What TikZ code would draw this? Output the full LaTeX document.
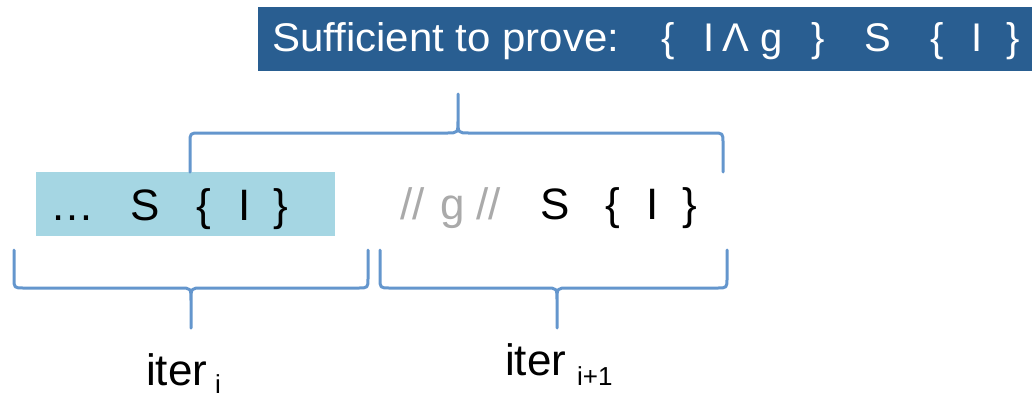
\documentclass[tikz,border=0pt]{standalone}
\usepackage{fontspec}
\setmainfont{Liberation Sans}

\definecolor{titleblue}{RGB}{41,94,145}
\definecolor{boxcyan}{RGB}{165,214,227}
\definecolor{braceblue}{RGB}{100,150,205}
\definecolor{commentgray}{RGB}{170,170,170}

\tikzset{
  toptext/.style={anchor=base west, inner sep=0pt, text=white,
    font=\fontsize{40}{44}\selectfont},
  codetext/.style={anchor=base west, inner sep=0pt,
    font=\fontsize{44}{48}\selectfont},
  subtext/.style={anchor=base west, inner sep=0pt,
    font=\fontsize{26}{28}\selectfont},
  bracestyle/.style={draw=braceblue, line width=3pt, line join=round, line cap=round},
}

\begin{document}
\begin{tikzpicture}[x=1pt, y=-1pt]
        \useasboundingbox (0,0) rectangle (1032,397);

        % Goal banner
        \fill[titleblue] (258,7) rectangle (1032,71);
        \foreach \x/\t [count=\k] in {272/{\scalebox{1.05}[1]{Sufficient to prove:}}, 661/\{, 703/I,
            722/Λ, 760/g, 811/\}, 864/S, 930/\{, 971/I, 1006/\}}
          \node[toptext] (goal\k) at (\x,51) {\t};

        % Iteration i (shaded)
        \fill[boxcyan] (36,172) rectangle (335,236);
        \foreach \x/\t [count=\k] in {50/…, 130/S, 196/\{, 238/I, 273/\}}
          \node[codetext] (old\k) at (\x,220) {\t};

        % Iteration i+1
        \foreach \x/\t [count=\k] in {400/{//}, 440/g, 476/{//}}
          \node[codetext, text=commentgray] (guard\k) at (\x,219) {\t};
        \foreach \x/\t [count=\k] in {540/S, 605/\{, 646/I, 682/\}}
          \node[codetext] (new\k) at (\x,219) {\t};

        % Upper brace
        \coordinate (uptip) at (458,94);
        \draw[bracestyle] (190,172) -- (190,143) .. controls (190,133) .. (200,133) -- (447,133)
          .. controls (458,133) .. (458,120) -- (uptip) -- (458,120)
          .. controls (458,133) .. (469,133) -- (713,133) .. controls (723,133) .. (723,143) -- (723,172);

        % Lower braces
        \coordinate (tipi) at (191,328);
        \coordinate (tipj) at (557,328);
        \draw[bracestyle] (14,250) -- (14,278) .. controls (14,288) .. (24,288) -- (180,288)
          .. controls (191,288) .. (191,301) -- (tipi) -- (191,301)
          .. controls (191,288) .. (202,288) -- (358,288) .. controls (368,288) .. (368,278) -- (368,250);
        \draw[bracestyle] (380,250) -- (380,278) .. controls (380,288) .. (390,288) -- (546,288)
          .. controls (557,288) .. (557,301) -- (tipj) -- (557,301)
          .. controls (557,288) .. (568,288) -- (717,288) .. controls (727,288) .. (727,278) -- (727,250);

        % Labels
        \node[codetext] (iteri) at (146,385) {iter};
        \node[subtext] (subi) at (215,393) {i};
        \node[codetext] (iterj) at (505,375) {iter};
        \node[subtext] (subj) at (577,385) {i+1};
    \end{tikzpicture}
\end{document}
